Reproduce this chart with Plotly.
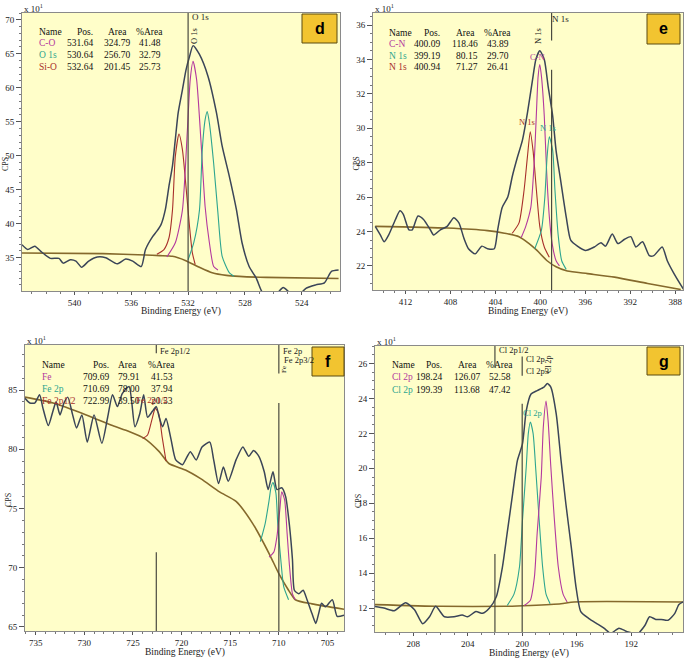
import plotly.graph_objects as go

W, H = 685, 658

# ---------------- DATA (binding energy eV, counts x10) ----------------
# Panel d : O 1s
d_env = [(543.7,36.9),(543.3,36.2),(542.8,36.7),(542.3,35.8),(541.7,34.9),(541.1,34.9),(540.8,34.2),
         (540.3,34.7),(539.9,34.5),(539.5,33.6),(539.0,34.5),(538.4,35.1),(537.8,35.0),(537.0,34.1),
         (536.4,34.8),(535.9,34.5),(535.3,33.7),(535.0,36.2),(534.5,38.1),(534.2,38.9),(533.9,39.9),
         (533.6,42.1),(533.35,45.5),(533.1,48.5),(532.9,52.4),(532.7,56.3),(532.4,59.7),(532.15,62.6),
         (531.9,64.6),(531.65,66.2),(531.2,64.9),(530.6,61.7),(530.0,56.3),(529.6,51.4),(529.1,47.0),
         (528.6,42.1),(528.2,37.2),(527.7,33.7),(527.2,32.0),(526.8,30.0),(526.3,29.0),(525.8,29.6),
         (525.3,30.6),(524.8,29.8),(524.2,29.5),(523.7,30.5),(523.0,31.0),(522.4,31.3),(521.9,33.0),(521.4,33.2)]
d_bg = [(543.7,35.7),(538.0,35.6),(535.0,35.4),(534.0,35.3),(533.1,35.2),(532.2,34.6),(531.2,33.6),
        (530.3,32.8),(529.3,32.4),(528.4,32.25),(526.5,32.1),(521.4,31.95)]
d_sio = [(534.2,35.5),(533.7,36.2),(533.35,37.9),(533.1,42.0),(532.9,49.9),(532.64,53.2),(532.4,50.9),
         (532.15,45.5),(531.9,39.6),(531.7,35.7),(531.5,34.0)]
d_co = [(533.5,35.1),(532.9,37.2),(532.4,42.0),(532.05,53.8),(531.85,61.2),(531.65,63.9),(531.4,61.2),
        (531.1,52.4),(530.8,42.5),(530.5,37.2),(530.2,33.7),(529.9,33.2)]
d_o1s = [(532.0,34.7),(531.6,37.2),(531.2,42.0),(531.0,50.9),(530.8,55.3),(530.65,56.5),(530.5,54.8),
         (530.2,48.9),(529.9,41.6),(529.6,35.2),(529.1,32.8),(528.75,32.25)]
d_names = ["C-O", "O 1s", "Si-O"]
d_pos = [531.64, 530.64, 532.64]
d_area = [324.79, 256.70, 201.45]
d_pct = [41.48, 32.79, 25.73]
d_markers = [532.0]

# Panel e : N 1s
e_env = [(414.7,24.3),(414.25,23.8),(413.9,23.4),(413.5,23.8),(412.9,24.7),(412.5,25.2),(412.2,25.0),
         (411.7,24.1),(411.4,24.1),(410.9,24.9),(410.4,24.7),(409.8,24.1),(409.5,23.8),(408.9,24.1),
         (408.3,24.3),(407.7,24.8),(407.25,24.5),(406.8,23.6),(406.4,23.0),(405.8,22.7),(405.2,23.15),
         (404.7,23.0),(404.1,23.0),(403.8,24.1),(403.4,25.4),(402.9,26.0),(402.5,27.2),(402.05,28.3),
         (401.6,29.3),(401.15,30.9),(400.7,32.8),(400.4,34.0),(400.05,34.5),(399.65,34.0),(399.3,32.4),
         (398.9,30.7),(398.6,28.7),(398.2,27.0),(397.7,24.85),(397.3,23.5),(396.7,23.15),(396.0,22.9),
         (395.2,23.1),(394.6,23.35),(394.2,23.15),(393.6,23.85),(393.1,23.3),(392.5,23.55),(391.95,23.7),
         (391.5,23.1),(390.9,23.4),(390.3,22.6),(389.9,22.6),(389.15,23.1),(388.7,22.3),(388.1,21.55),
         (387.5,20.9),(387.2,20.6)]
e_bg = [(414.7,24.3),(408.3,24.2),(404.7,24.05),(403.2,23.9),(401.9,23.7),(401.0,23.3),(400.3,22.9),
        (399.4,22.3),(398.6,21.95),(397.6,21.7),(395.8,21.55),(393.4,21.35),(390.45,20.98),(387.5,20.63)]
e_n1s_a = [(402.5,23.9),(401.9,24.5),(401.45,26.4),(401.15,28.35),(400.9,29.8),(400.65,28.7),
           (400.35,26.4),(400.05,24.3),(399.65,23.1),(399.2,22.5)]
e_cn = [(401.7,23.65),(401.3,24.3),(400.85,25.4),(400.55,28.0),(400.35,30.9),(400.2,33.0),(400.05,33.7),
        (399.9,33.0),(399.65,30.7),(399.45,27.6),(399.2,24.85),(398.95,23.3),(398.6,22.3),(398.3,22.0)]
e_n1s_b = [(400.5,23.0),(399.9,24.1),(399.6,26.0),(399.4,28.35),(399.2,29.5),(398.9,28.7),(398.7,26.4),
           (398.4,23.7),(398.1,22.3),(397.7,21.8)]
e_names = ["C-N", "N 1s", "N 1s"]
e_pos = [400.09, 399.19, 400.94]
e_area = [118.46, 80.15, 71.27]
e_pct = [43.89, 29.70, 26.41]

# Panel f : Fe 2p
f_env = [(736.1,84.3),(735.6,83.9),(735.1,83.9),(734.6,84.6),(734.25,83.45),(733.7,82.0),(733.2,83.3),
         (732.9,84.0),(732.5,82.9),(732.1,83.9),(731.7,84.4),(731.2,82.9),(730.8,81.8),(730.25,82.9),
         (729.7,80.6),(729.0,82.9),(728.2,80.5),(727.6,82.7),(727.1,84.6),(726.6,83.6),(726.1,84.7),
         (725.4,85.3),(724.8,81.9),(724.3,83.0),(723.9,84.6),(723.5,82.7),(723.0,83.2),(722.6,83.6),
         (722.3,82.7),(721.95,81.9),(721.6,82.6),(721.1,80.9),(720.6,79.1),(719.9,78.7),(719.6,79.1),
         (719.1,79.8),(718.5,79.1),(717.9,80.2),(717.1,80.6),(716.7,79.1),(716.2,77.1),(715.7,78.5),
         (715.2,77.3),(714.4,79.1),(713.7,80.2),(713.1,79.4),(712.6,79.9),(712.05,79.4),(711.5,78.1),
         (711.1,76.6),(710.6,78.1),(710.2,76.6),(709.7,76.75),(709.3,76.0),(708.9,73.5),(708.6,70.7),
         (708.4,68.1),(707.95,67.8),(707.5,68.1),(707.1,67.3),(706.6,66.15),(706.2,65.3),(705.9,66.15),
         (705.6,67.0),(705.2,66.7),(704.5,67.3),(704.0,65.9),(703.3,66.0)]
f_bg = [(736.1,84.4),(733.2,83.9),(729.8,82.9),(727.1,82.0),(725.4,81.5),(723.8,80.9),(722.3,79.8),
        (721.3,78.8),(719.6,78.25),(718.0,77.5),(716.1,76.4),(714.4,75.6),(712.7,73.75),(711.0,71.2),
        (710.0,69.5),(709.0,68.1),(708.3,67.3),(706.6,66.95),(703.3,66.5)]
f_fe2p12 = [(724.0,80.9),(723.5,81.2),(723.05,82.5),(722.7,83.45),(722.35,83.0),(722.0,81.05),(721.6,79.0)]
f_fe2p = [(711.9,72.2),(711.4,73.75),(711.0,75.7),(710.8,76.8),(710.6,77.2),(710.3,76.3),(710.1,73.5),
          (709.8,70.7),(709.5,68.4),(709.0,67.3)]
f_fe = [(711.0,70.9),(710.5,71.35),(710.2,72.6),(709.9,74.9),(709.7,76.4),(709.4,75.7),(709.15,72.9),
        (708.9,70.1),(708.6,67.8),(708.3,67.3)]
f_names = ["Fe", "Fe 2p", "Fe 2p1/2"]
f_pos = [709.69, 710.69, 722.99]
f_area = [79.91, 78.00, 39.50]
f_pct = [41.53, 37.94, 20.53]

# Panel g : Cl 2p
g_env = [(210.9,12.1),(210.15,12.0),(209.4,11.85),(208.55,12.3),(207.9,11.9),(207.3,11.1),(206.8,11.5),
         (206.35,12.1),(205.7,11.5),(205.0,11.5),(204.4,11.6),(204.0,11.5),(203.4,11.8),(202.9,11.7),
         (202.4,12.0),(201.9,12.65),(201.45,14.35),(201.1,16.3),(200.7,18.55),(200.35,20.45),(199.98,21.4),
         (199.7,23.3),(199.35,24.25),(198.9,24.45),(198.4,24.65),(198.15,24.85),(197.9,24.65),(197.5,23.1),
         (197.15,20.45),(196.8,18.0),(196.4,15.5),(196.05,13.2),(195.7,11.8),(195.1,11.4),(194.5,11.1),
         (194.0,10.85),(193.5,10.55),(192.9,10.85),(192.3,10.65),(191.5,10.55),(191.0,11.0),(190.65,11.5),
         (190.2,11.35),(189.8,11.35),(189.3,11.3),(188.8,11.7),(188.5,12.2),(188.2,12.35)]
g_bg = [(210.9,12.2),(206.0,12.1),(201.1,12.1),(199.4,12.15),(197.15,12.25),(196.2,12.35),(188.2,12.35)]
g_cl_a = [(201.1,12.15),(200.6,12.8),(200.2,14.35),(199.98,17.0),(199.7,20.1),(199.55,22.0),(199.4,22.65),
          (199.2,22.0),(199.0,19.9),(198.75,17.0),(198.5,14.35),(198.25,12.8),(197.95,12.25)]
g_cl_b = [(199.85,12.15),(199.4,12.45),(199.1,13.8),(198.9,16.3),(198.6,19.5),(198.45,22.35),(198.25,23.85),
          (198.1,22.75),(197.9,20.1),(197.65,17.2),(197.35,14.35),(197.0,12.8),(196.7,12.35)]
g_names = ["Cl 2p", "Cl 2p"]
g_pos = [198.24, 199.39]
g_area = [126.07, 113.68]
g_pct = [52.58, 47.42]

# ---------------- STYLE ----------------
ENV = "#3b4558"
BGC = "#85692c"
MAG = "#b3399e"
TEAL = "#2ea58f"
RED = "#a8302b"
PLOTBG = "#fffec9"
SERIF = "Liberation Serif"


def px(x):
    return x / W


def py(y):
    return 1 - y / H


fig = go.Figure()


def add_curve(pts, color, width, axis):
    xs = [p[0] for p in pts]
    ys = [p[1] for p in pts]
    fig.add_trace(go.Scatter(x=xs, y=ys, mode="lines", xaxis="x" + axis, yaxis="y" + axis,
                             line=dict(color=color, width=width, shape="spline", smoothing=0.6),
                             hoverinfo="skip", showlegend=False))


panels = {
    "": dict(dom=(22, 340, 13, 291), xr=(543.7, 521.3), yr=(30.1, 71.0), xd=4, x0=524, yd=5, y0=35, ym=1),
    "2": dict(dom=(373, 683, 13, 290), xr=(414.9, 387.3), yr=(20.6, 36.7), xd=4, x0=388, yd=2, y0=22, ym=0.5),
    "3": dict(dom=(25, 344, 345, 631), xr=(736.1, 703.3), yr=(64.66, 88.8), xd=5, x0=705, yd=5, y0=65, ym=1),
    "4": dict(dom=(375, 683, 346, 632), xr=(210.8, 188.2), yr=(10.63, 27.0), xd=4, x0=192, yd=2, y0=12, ym=0.5),
}

# curves (components first, envelope on top)
add_curve(d_bg, BGC, 1.6, "")
add_curve(d_sio, RED, 1.1, "")
add_curve(d_co, MAG, 1.1, "")
add_curve(d_o1s, TEAL, 1.1, "")
add_curve(d_env, ENV, 1.5, "")

add_curve(e_bg, BGC, 1.6, "2")
add_curve(e_n1s_a, RED, 1.1, "2")
add_curve(e_cn, MAG, 1.1, "2")
add_curve(e_n1s_b, TEAL, 1.1, "2")
add_curve(e_env, ENV, 1.5, "2")

add_curve(f_bg, BGC, 1.6, "3")
add_curve(f_fe2p12, RED, 1.1, "3")
add_curve(f_fe2p, TEAL, 1.1, "3")
add_curve(f_fe, MAG, 1.1, "3")
add_curve(f_env, ENV, 1.5, "3")

add_curve(g_bg, BGC, 1.6, "4")
add_curve(g_cl_a, TEAL, 1.1, "4")
add_curve(g_cl_b, MAG, 1.1, "4")
add_curve(g_env, ENV, 1.5, "4")

layout = dict(width=W, height=H, margin=dict(l=0, r=0, t=0, b=0), paper_bgcolor="white",
              plot_bgcolor=PLOTBG, showlegend=False)
shapes = []
annotations = []

for key, p in panels.items():
    x0, x1, y0, y1 = p["dom"]
    tickfont = dict(family=SERIF, size=9, color="#222")
    layout["xaxis" + key] = dict(domain=[px(x0), px(x1)], range=list(p["xr"]), anchor="y" + key,
                                 dtick=p["xd"], tick0=p["x0"], ticks="outside", ticklen=3, tickcolor="#555",
                                 showline=True, linecolor="#8a8a8a", linewidth=1, mirror=True,
                                 showgrid=False, zeroline=False, tickfont=tickfont, automargin=False,
                                 minor=dict(dtick=1, ticks="outside", ticklen=2, tickcolor="#777"))
    layout["yaxis" + key] = dict(domain=[py(y1), py(y0)], range=list(p["yr"]), anchor="x" + key,
                                 dtick=p["yd"], tick0=p["y0"], ticks="outside", ticklen=5, tickcolor="#555",
                                 showline=True, linecolor="#8a8a8a", linewidth=1, mirror=True,
                                 showgrid=False, zeroline=False, tickfont=tickfont, automargin=False,
                                 minor=dict(dtick=p["ym"], ticks="outside", ticklen=2, tickcolor="#777"))
    # axis titles
    annotations.append(dict(x=px((x0 + x1) / 2), y=py(y1 + 21), xref="paper", yref="paper",
                            text="Binding Energy (eV)", showarrow=False, xanchor="center", yanchor="middle",
                            font=dict(family=SERIF, size=9.5, color="#222")))
    annotations.append(dict(x=px(x0 - 17), y=py((y0 + y1) / 2 + 12), xref="paper", yref="paper",
                            text="CPS", showarrow=False, textangle=-90, xanchor="center", yanchor="middle",
                            font=dict(family=SERIF, size=8, color="#222")))
    annotations.append(dict(x=px(x0), y=py(y0 - 5), xref="paper", yref="paper",
                            text="x 10<sup>1</sup>", showarrow=False, xanchor="left", yanchor="middle",
                            font=dict(family=SERIF, size=9, color="#222")))


def label_box(x0, x1, y0, y1, letter):
    shapes.append(dict(type="rect", xref="paper", yref="paper", x0=px(x0), x1=px(x1), y0=py(y1), y1=py(y0),
                       fillcolor="#f2c430", line=dict(color="#5a4a10", width=1)))
    annotations.append(dict(x=px((x0 + x1) / 2), y=py((y0 + y1) / 2), xref="paper", yref="paper", text=letter,
                            showarrow=False, xanchor="center", yanchor="middle",
                            font=dict(family="Liberation Sans", size=16, color="black", weight="bold")))


label_box(302, 337, 14, 43, "d")
label_box(647, 680, 14, 44, "e")
label_box(312, 344, 347, 376, "f")
label_box(647, 680, 347, 375, "g")


def table(names, colors, pos, area, pct, xname, xr_pos, xr_area, xr_pct, rows):
    f = dict(family=SERIF, size=9.5, color="#111")
    for txt, xx, anc in (("Name", xname, "left"), ("Pos.", xr_pos, "right"),
                         ("Area", xr_area - 3, "right"), ("%Area", xr_pct + 2, "right")):
        annotations.append(dict(x=px(xx), y=py(rows[0]), xref="paper", yref="paper", text=txt,
                                showarrow=False, xanchor=anc, yanchor="middle", font=f))
    for i in range(len(names)):
        yy = py(rows[i + 1])
        annotations.append(dict(x=px(xname), y=yy, xref="paper", yref="paper", text=names[i], showarrow=False,
                                xanchor="left", yanchor="middle",
                                font=dict(family=SERIF, size=9.5, color=colors[i])))
        for val, xx in ((pos[i], xr_pos), (area[i], xr_area), (pct[i], xr_pct)):
            annotations.append(dict(x=px(xx), y=yy, xref="paper", yref="paper", text=f"{val:.2f}",
                                    showarrow=False, xanchor="right", yanchor="middle", font=f))


table(d_names, [MAG, TEAL, RED], d_pos, d_area, d_pct, 37, 95, 132, 163, [32, 43, 55, 67])
table(e_names, [MAG, TEAL, RED], e_pos, e_area, e_pct, 387, 442, 480, 511, [33, 44, 56, 67])
table(f_names, [MAG, TEAL, RED], f_pos, f_area, f_pct, 40, 111, 142, 175, [365, 377, 389, 401])
table(g_names, [MAG, TEAL], g_pos, g_area, g_pct, 390, 444, 482, 513, [365, 377, 390])


def vseg(axis, x, ya, yb):
    shapes.append(dict(type="line", xref="x" + axis, yref="y" + axis, x0=x, x1=x, y0=ya, y1=yb,
                       line=dict(color="#4a4a40", width=1.2)))


# peak marker lines
vseg("", d_markers[0], 71.0, 30.1)
vseg("2", 399.0, 36.7, 35.1)
vseg("2", 399.0, 33.4, 20.6)
vseg("3", 722.6, 88.8, 88.1)
vseg("3", 722.6, 71.3, 64.66)
vseg("3", 710.0, 88.8, 86.4)
vseg("3", 710.0, 83.9, 64.66)
vseg("4", 202.0, 27.0, 25.8)
vseg("4", 202.0, 15.1, 10.63)
vseg("4", 200.0, 26.4, 25.3)
vseg("4", 200.0, 23.7, 10.63)


def note(x, y, s, color="#222", size=8.5, anc="left", angle=0):
    annotations.append(dict(x=px(x), y=py(y), xref="paper", yref="paper", text=s, showarrow=False,
                            xanchor=anc, yanchor="middle", textangle=angle,
                            font=dict(family=SERIF, size=size, color=color)))


note(190, 17, "O 1s", size=9)
note(194, 36, "O 1s", anc="center", angle=-90)
note(550, 19, "N 1s", size=9)
note(538, 36, "N 1s", anc="center", angle=-90)
note(537, 57, "C-N", color=MAG, anc="center")
note(527, 122, "N 1s", color=RED, anc="center")
note(548, 128, "N 1s", color=TEAL, anc="center")
note(158, 351, "Fe 2p1/2", size=8.5)
note(281, 351, "Fe 2p", size=8.5)
note(282, 360, "Fe 2p3/2", size=8.5)
note(284, 370, "Fe", size=7, anc="center", angle=-90)
note(152, 400, "Fe 2p1/2", color=RED, anc="center", size=9)
note(497, 350, "Cl 2p1/2", size=8.5)
note(524, 359, "Cl 2p", size=8.5)
note(524, 371, "Cl 2p3", size=8.5)
note(548, 364, "Cl 2p", size=8, anc="center", angle=-90)
note(532, 413, "Cl 2p", color=TEAL, anc="center")

layout["shapes"] = shapes
layout["annotations"] = annotations
fig.update_layout(**layout)
fig.write_html("out.html", config={"displayModeBar": False},
               post_script="document.body.style.margin='0';document.body.style.overflow='hidden';")
